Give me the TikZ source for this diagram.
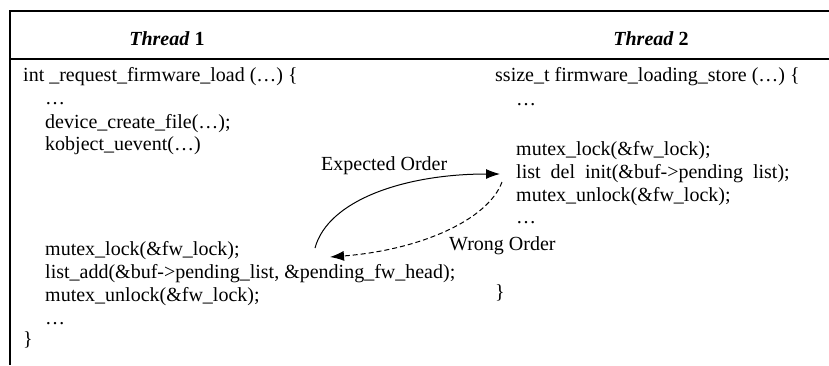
\documentclass[tikz,border=0pt]{standalone}
\usepackage{fontspec}
\setmainfont{Liberation Serif}
\usetikzlibrary{arrows.meta}
\begin{document}
\begin{tikzpicture}[x=1pt, y=-1pt, every node/.style={font=\fontsize{20}{22}\selectfont},
  codeln/.style={anchor=base west,inner sep=0pt},
  hdr/.style={font=\fontsize{20}{22}\selectfont\bfseries},
  order/.style={line width=1pt,-{Latex[length=14pt,width=10pt]}}]
\useasboundingbox (0,0) rectangle (829,365);
% table frame
\draw[line width=1.8pt] (829,11) -- (10,11) -- (10,365);
\draw[line width=1.8pt] (10,59) -- (829,59);
\node[hdr] (th1) at (167,39) {\textit{Thread} 1};
\node[hdr] (th2) at (651,39) {\textit{Thread} 2};
% thread 1
\node[codeln] (a1) at (23,81) {int \_request\_firmware\_load (…) \{};
\node[codeln] (a2) at (45,104) {…};
\node[codeln] (a3) at (45,128) {device\_create\_file(…);};
\node[codeln] (a4) at (45,150) {kobject\_uevent(…)};
\node[codeln] (a5) at (45,255) {mutex\_lock(\&fw\_lock);};
\node[codeln] (a6) at (45,278) {list\_add(\&buf->pending\_list, \&pending\_fw\_head);};
\node[codeln] (a7) at (45,301) {mutex\_unlock(\&fw\_lock);};
\node[codeln] (a8) at (45,324) {…};
\node[codeln] (a9) at (23,345) {\}};
% thread 2
\node[codeln] (b1) at (495,81) {ssize\_t firmware\_loading\_store (…) \{};
\node[codeln] (b2) at (516,105) {…};
\node[codeln] (b3) at (516,155) {mutex\_lock(\&fw\_lock);};
\node[codeln] (b4) at (516,178) {list\enspace del\enspace init(\&buf->pending\enspace list);};
\node[codeln] (b5) at (516,201) {mutex\_unlock(\&fw\_lock);};
\node[codeln] (b6) at (516,223) {…};
\node[codeln] (b7) at (495,298) {\}};
% orderings
\coordinate (exps) at (315,248);
\coordinate (expe) at (500,174);
\coordinate (wros) at (502,182);
\coordinate (wroe) at (330,257);
\draw[order] (exps) .. controls (328,200) and (405,174) .. (expe);
\draw[order,dash pattern=on 5pt off 3pt] (wros) .. controls (488,220) and (420,250) .. (wroe);
\node[codeln] (explbl) at (321,170) {Expected Order};
\node[codeln] (wrolbl) at (449,250) {Wrong Order};
\end{tikzpicture}
\end{document}
